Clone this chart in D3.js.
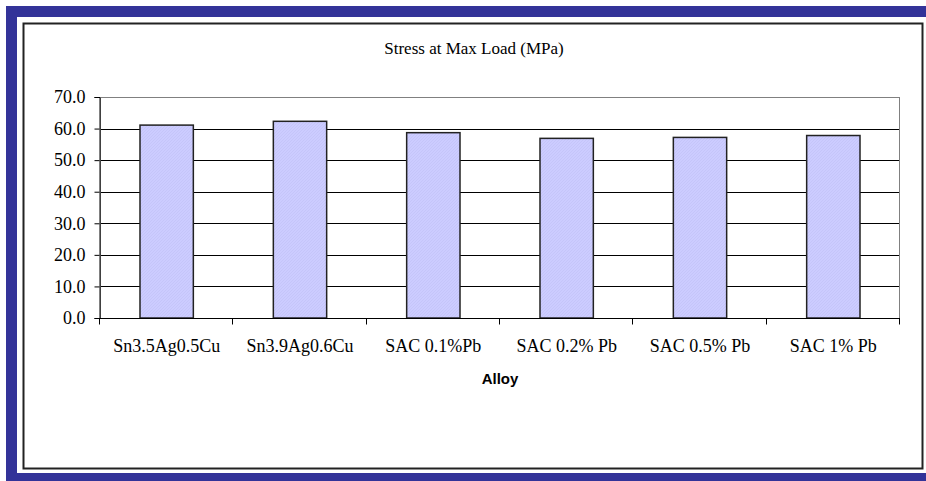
<!DOCTYPE html>
<html>
<head>
<meta charset="utf-8">
<script src="https://cdn.jsdelivr.net/npm/d3@7"></script>
<style>
  html, body { margin: 0; padding: 0; background: #fff; }
  svg { display: block; }
</style>
</head>
<body>
<div id="chart"></div>
<script>
// data
var categories = ["Sn3.5Ag0.5Cu", "Sn3.9Ag0.6Cu", "SAC 0.1%Pb", "SAC 0.2% Pb", "SAC 0.5% Pb", "SAC 1% Pb"];
var stress = [61.1, 62.3, 58.7, 56.9, 57.2, 57.8];
var yTicks = [0, 10, 20, 30, 40, 50, 60, 70];
var title = "Stress at Max Load (MPa)";
var xTitle = "Alloy";

var width = 926, height = 481;
var plot = {left: 100, right: 900, top: 97, bottom: 318};
var serif = '"Liberation Serif", "Times New Roman", serif';

var svg = d3.select('#chart').append('svg')
  .attr('width', width)
  .attr('height', height);

// pattern for the excel style bar fill
var defs = svg.append('defs');
var pat = defs.append('pattern')
  .attr('id', 'hatch')
  .attr('patternUnits', 'userSpaceOnUse')
  .attr('width', 3).attr('height', 3);
pat.append('rect').attr('width', 3).attr('height', 3).attr('fill', '#ccccff');
pat.append('path').attr('d', 'M0,3 L3,0').attr('stroke', '#c2c2f6').attr('stroke-width', 0.7);

// blue frame, white page, chart box
svg.append('rect').attr('x', 6).attr('y', 6).attr('width', width).attr('height', height).attr('fill', '#333399');
svg.append('rect').attr('x', 17).attr('y', 17).attr('width', width).attr('height', 456).attr('fill', '#fff');
svg.append('rect').attr('x', 23.5).attr('y', 23.5).attr('width', 899).attr('height', 445)
  .attr('fill', '#fff').attr('stroke', '#222').attr('stroke-width', 2);

// scales
var slot = d3.scaleBand().domain(categories).range([plot.left, plot.right]).padding(0);
var x = d3.scaleBand().domain(categories).range([plot.left, plot.right]).paddingInner(0.6).paddingOuter(0.3);
var y = d3.scaleLinear().domain([0, 70]).range([plot.bottom, plot.top]);

// gridlines
svg.append('g').selectAll('line')
  .data(yTicks.filter(function(d) { return d > 0; }))
  .enter().append('line')
  .attr('x1', plot.left).attr('x2', plot.right)
  .attr('y1', function(d) { return Math.round(y(d)) + 0.5; })
  .attr('y2', function(d) { return Math.round(y(d)) + 0.5; })
  .attr('stroke', '#000').attr('stroke-width', 1);

// plot area border (grey)
svg.append('rect')
  .attr('x', plot.left + 0.5).attr('y', Math.round(y(70)) + 0.5)
  .attr('width', plot.right - plot.left - 1).attr('height', plot.bottom - Math.round(y(70)))
  .attr('fill', 'none').attr('stroke', '#808080').attr('stroke-width', 1);

// bars
svg.append('g').selectAll('rect')
  .data(stress)
  .enter().append('rect')
  .attr('x', function(d, i) { return x(categories[i]); })
  .attr('y', function(d) { return y(d); })
  .attr('width', x.bandwidth())
  .attr('height', function(d) { return y(0) - y(d); })
  .attr('fill', 'url(#hatch)')
  .attr('stroke', '#222')
  .attr('stroke-width', 1.5);

// y axis
var yAxis = svg.append('g')
  .attr('transform', 'translate(' + (plot.left - 0.5) + ',0)')
  .call(d3.axisLeft(y).tickValues(yTicks).tickFormat(d3.format('.1f')).tickSize(5).tickPadding(9));
yAxis.select('.domain').attr('stroke', '#000');
yAxis.selectAll('.tick line').attr('stroke', '#000');
yAxis.selectAll('text')
  .attr('font-family', serif)
  .attr('font-size', 18)
  .attr('fill', '#000');

// x axis
var xAxis = svg.append('g')
  .attr('transform', 'translate(0,' + (plot.bottom + 0.5) + ')')
  .call(d3.axisBottom(slot).tickSize(0).tickPadding(21));
xAxis.select('.domain').remove();
xAxis.selectAll('text')
  .attr('font-family', serif)
  .attr('font-size', 18)
  .attr('fill', '#000');

xAxis.append('line')
  .attr('x1', plot.left - 0.5).attr('x2', plot.right).attr('stroke', '#000');

// tick marks at slot boundaries
var bounds = categories.map(function(c) { return slot(c); }).concat([plot.right]);
xAxis.selectAll('.bound')
  .data(bounds)
  .enter().append('line')
  .attr('class', 'bound')
  .attr('x1', function(d) { return Math.round(d) - 0.5; })
  .attr('x2', function(d) { return Math.round(d) - 0.5; })
  .attr('y1', 0).attr('y2', 6)
  .attr('stroke', '#000');

// titles
svg.append('text')
  .attr('x', 474).attr('y', 54)
  .attr('text-anchor', 'middle')
  .attr('font-family', serif)
  .attr('font-size', 17)
  .text(title);

svg.append('text')
  .attr('x', (plot.left + plot.right) / 2).attr('y', 384)
  .attr('text-anchor', 'middle')
  .attr('font-family', '"Liberation Sans", Arial, sans-serif')
  .attr('font-weight', 'bold')
  .attr('font-size', 15)
  .text(xTitle);
</script>
</body>
</html>
